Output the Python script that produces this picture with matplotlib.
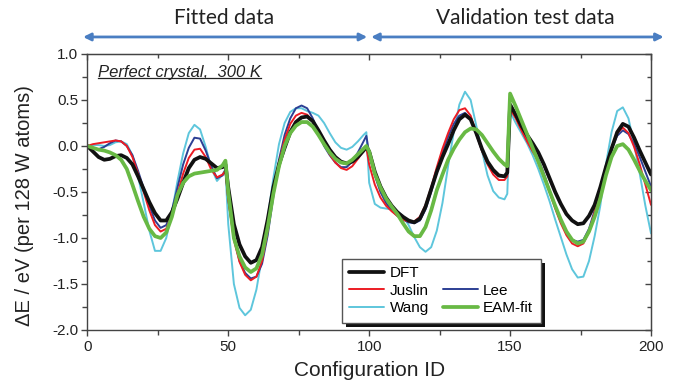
import numpy as np
import matplotlib
matplotlib.use('Agg')
import matplotlib.pyplot as plt
from matplotlib.lines import Line2D
from matplotlib.patches import Rectangle
from matplotlib.transforms import IdentityTransform
from matplotlib.ticker import MultipleLocator, FormatStrFormatter

# ---------------- data ----------------
config_id = np.sort(np.r_[np.arange(0, 201, 2), 49, 99, 149])

dft = [
    0.00, -0.06, -0.12, -0.15, -0.14, -0.11, -0.10, -0.13, -0.20, -0.33, -0.47, -0.61, -0.73,
    -0.81, -0.81, -0.72, -0.57, -0.40, -0.24, -0.15, -0.12, -0.14, -0.19, -0.24, -0.23,
    -0.20,
    -0.45, -0.85, -1.07, -1.20, -1.27, -1.24, -1.10, -0.80, -0.45, -0.20, -0.02, 0.15, 0.26,
    0.31, 0.32, 0.27, 0.17, 0.06, -0.04, -0.12, -0.17, -0.19, -0.17, -0.12, -0.05,
    -0.01,
    -0.06, -0.28, -0.44, -0.56, -0.65, -0.72, -0.77, -0.81, -0.83, -0.79, -0.66, -0.47, -0.28,
    -0.12, 0.02, 0.17, 0.29, 0.34, 0.29, 0.14, -0.03, -0.17, -0.26, -0.32, -0.33,
    -0.29,
    0.45, 0.34, 0.22, 0.12, 0.03, -0.07, -0.20, -0.35, -0.50, -0.63, -0.74, -0.81, -0.85,
    -0.84, -0.76, -0.64, -0.45, -0.23, -0.03, 0.15, 0.24, 0.21, 0.09, -0.05, -0.18, -0.31,
]

juslin = [
    0.00, 0.02, 0.03, 0.04, 0.05, 0.06, 0.05, 0.00, -0.12, -0.30, -0.50, -0.70, -0.86,
    -0.93, -0.90, -0.75, -0.52, -0.30, -0.13, -0.04, -0.03, -0.12, -0.26, -0.34, -0.31,
    -0.27,
    -0.58, -1.02, -1.26, -1.40, -1.46, -1.42, -1.25, -0.92, -0.52, -0.18, 0.07, 0.24, 0.33,
    0.36, 0.34, 0.27, 0.16, 0.03, -0.09, -0.18, -0.24, -0.26, -0.22, -0.14, -0.05,
    -0.02,
    -0.20, -0.42, -0.56, -0.65, -0.71, -0.76, -0.80, -0.82, -0.82, -0.77, -0.64, -0.45, -0.23,
    -0.03, 0.14, 0.29, 0.39, 0.41, 0.33, 0.14, -0.05, -0.20, -0.31, -0.37, -0.37,
    -0.33,
    0.40, 0.30, 0.17, 0.05, -0.06, -0.16, -0.32, -0.50, -0.68, -0.84, -0.97, -1.06, -1.09,
    -1.06, -0.93, -0.72, -0.47, -0.22, -0.02, 0.14, 0.20, 0.14, -0.01, -0.20, -0.42, -0.64,
]

lee = [
    0.00, -0.03, -0.035, -0.01, 0.03, 0.06, 0.05, 0.00, -0.10, -0.27, -0.46, -0.65, -0.81,
    -0.89, -0.86, -0.70, -0.45, -0.20, -0.02, 0.09, 0.08, -0.05, -0.22, -0.35, -0.32,
    -0.26,
    -0.58, -1.00, -1.25, -1.38, -1.44, -1.42, -1.28, -0.97, -0.55, -0.15, 0.12, 0.30, 0.41,
    0.44, 0.41, 0.30, 0.15, 0.00, -0.10, -0.18, -0.23, -0.23, -0.17, -0.07, 0.05,
    0.11,
    -0.08, -0.32, -0.50, -0.62, -0.70, -0.76, -0.80, -0.83, -0.84, -0.81, -0.69, -0.50, -0.28,
    -0.07, 0.10, 0.24, 0.33, 0.36, 0.30, 0.13, -0.05, -0.19, -0.28, -0.33, -0.33,
    -0.29,
    0.42, 0.32, 0.20, 0.08, -0.04, -0.14, -0.30, -0.48, -0.66, -0.82, -0.94, -1.02, -1.04,
    -1.02, -0.90, -0.70, -0.46, -0.22, -0.03, 0.11, 0.17, 0.13, 0.02, -0.12, -0.28, -0.44,
]

wang = [
    0.00, 0.01, 0.01, 0.00, 0.01, 0.04, 0.05, 0.02, -0.10, -0.33, -0.62, -0.92, -1.14,
    -1.14, -1.00, -0.72, -0.38, -0.08, 0.14, 0.23, 0.18, -0.01, -0.24, -0.38, -0.31,
    -0.25,
    -0.85, -1.50, -1.76, -1.84, -1.78, -1.56, -1.20, -0.78, -0.35, 0.02, 0.25, 0.37, 0.41,
    0.41, 0.38, 0.36, 0.33, 0.25, 0.14, 0.04, -0.02, -0.04, -0.01, 0.05, 0.12,
    0.15,
    -0.40, -0.63, -0.67, -0.68, -0.69, -0.71, -0.76, -0.86, -0.99, -1.10, -1.15, -1.10, -0.92,
    -0.62, -0.22, 0.15, 0.45, 0.59, 0.50, 0.22, -0.05, -0.32, -0.49, -0.56, -0.58,
    -0.52,
    0.37, 0.25, 0.14, 0.03, -0.10, -0.25, -0.42, -0.60, -0.80, -0.99, -1.18, -1.34, -1.43,
    -1.42, -1.25, -0.98, -0.65, -0.20, 0.15, 0.38, 0.42, 0.30, 0.02, -0.30, -0.65, -0.95,
]

eam_fit = [
    0.00, -0.02, -0.04, -0.05, -0.07, -0.10, -0.15, -0.25, -0.42, -0.60, -0.77, -0.90, -0.98,
    -1.00, -0.94, -0.77, -0.53, -0.40, -0.33, -0.30, -0.29, -0.28, -0.27, -0.26, -0.21,
    -0.16,
    -0.50, -1.00, -1.20, -1.32, -1.37, -1.33, -1.18, -0.88, -0.52, -0.22, 0.00, 0.14, 0.22,
    0.26, 0.26, 0.21, 0.12, 0.02, -0.07, -0.14, -0.18, -0.19, -0.15, -0.09, -0.03,
    0.00,
    -0.06, -0.30, -0.45, -0.57, -0.66, -0.74, -0.84, -0.93, -0.98, -0.98, -0.88, -0.70, -0.48,
    -0.31, -0.15, -0.03, 0.07, 0.15, 0.19, 0.18, 0.12, 0.03, -0.06, -0.14, -0.20,
    -0.22,
    0.57, 0.43, 0.28, 0.13, -0.02, -0.17, -0.33, -0.49, -0.65, -0.80, -0.93, -1.02, -1.06,
    -1.04, -0.93, -0.77, -0.57, -0.32, -0.12, 0.00, 0.02, -0.04, -0.15, -0.27, -0.38, -0.48,
]

x_ticks = [0, 50, 100, 150, 200]
y_ticks = [-2.0, -1.5, -1.0, -0.5, 0.0, 0.5, 1.0]
region_labels = ['Fitted data', 'Validation test data']
panel_note = 'Perfect crystal,  300 K'

# ---------------- figure ----------------
plt.rcParams['font.family'] = ['Liberation Sans', 'DejaVu Sans']
plt.rcParams['axes.unicode_minus'] = False

fig = plt.figure(figsize=(6.78, 3.81), dpi=100)
ax = fig.add_axes([0.1288, 0.1339, 0.8314, 0.7244])

series = [
    (wang, 'Wang', '#5ec6dc', 1.4, 2.0),
    (lee, 'Lee', '#2c3f94', 1.4, 2.1),
    (juslin, 'Juslin', '#ec1c24', 1.4, 2.2),
    (dft, 'DFT', '#111111', 2.7, 2.3),
    (eam_fit, 'EAM-fit', '#68b944', 2.7, 2.4),
]
lines = {}
for vals, name, col, lw, z in series:
    ln, = ax.plot(config_id, vals, color=col, lw=lw, label=name, zorder=z,
                  solid_joinstyle='round', solid_capstyle='round')
    lines[name] = ln

ax.set_xlim(0, 200)
ax.set_ylim(-2.0, 1.0)
ax.set_xticks(x_ticks)
ax.set_yticks(y_ticks)
ax.yaxis.set_major_formatter(FormatStrFormatter('%.1f'))
ax.xaxis.set_minor_locator(MultipleLocator(25))
ax.yaxis.set_minor_locator(MultipleLocator(0.25))
spine_col = '#444444'
for s in ax.spines.values():
    s.set_color(spine_col)
    s.set_linewidth(1.0)
ax.tick_params(which='both', direction='out', colors=spine_col, labelcolor='#222222',
               labelsize=11, width=1.0)
ax.tick_params(which='major', length=4)
ax.tick_params(which='minor', length=3.5)
ax.tick_params(axis='y', pad=2.5)
ax.tick_params(axis='x', pad=3.5)

# mirrored inward ticks on top and right
secx = ax.secondary_xaxis('top')
secx.set_xticks(x_ticks)
secx.xaxis.set_minor_locator(MultipleLocator(25))
secx.tick_params(which='both', direction='in', labeltop=False, colors=spine_col, width=1.0)
secx.tick_params(which='major', length=4)
secx.tick_params(which='minor', length=3)
secx.spines['top'].set_color(spine_col)
secy = ax.secondary_yaxis('right')
secy.set_yticks(y_ticks)
secy.yaxis.set_minor_locator(MultipleLocator(0.25))
secy.tick_params(which='both', direction='in', labelright=False, colors=spine_col, width=1.0)
secy.tick_params(which='major', length=4)
secy.tick_params(which='minor', length=3)
secy.spines['right'].set_color(spine_col)

ax.set_xlabel('Configuration ID', fontsize=15, color='#222222')
ax.xaxis.set_label_coords(0.5, -0.112)
ax.set_ylabel('ΔE / eV (per 128 W atoms)', fontsize=14.5, color='#222222')
ax.yaxis.set_label_coords(-0.094, 0.45)

# region arrows and titles
arrow_col = '#4a7ec2'
arr_y = 1.185
for x0, x1 in [(-1.5, 99.3), (100.7, 204.5)]:
    ax.annotate('', xy=(x1, arr_y), xytext=(x0, arr_y), xycoords='data',
                annotation_clip=False,
                arrowprops=dict(arrowstyle='<|-|>', color=arrow_col, lw=2.0,
                                mutation_scale=11, shrinkA=0, shrinkB=0))
ax.text(48.4, 1.39, region_labels[0], ha='center', va='center', fontsize=15,
        family=['Lato', 'DejaVu Sans'], color='#222222', clip_on=False)
ax.text(155.3, 1.39, region_labels[1], ha='center', va='center', fontsize=15,
        family=['Lato', 'DejaVu Sans'], color='#222222', clip_on=False)

note = ax.text(3.8, 0.80, panel_note, ha='left', va='center', fontsize=12,
               style='italic', color='#222222')

# legend
blank = Line2D([], [], linestyle='none')
handles = [lines['DFT'], lines['Juslin'], lines['Wang'], blank, lines['Lee'], lines['EAM-fit']]
labels = ['DFT', 'Juslin', 'Wang', '', 'Lee', 'EAM-fit']
leg = ax.legend(handles, labels, ncol=2, loc='lower left', bbox_to_anchor=(0.451, 0.026),
                borderaxespad=0, frameon=True, fancybox=False, edgecolor='#555555',
                framealpha=1, fontsize=11, handlelength=2.3, handletextpad=0.35,
                columnspacing=0.9, labelspacing=0.22, borderpad=0.5)
leg.get_frame().set_linewidth(1.0)
leg.set_zorder(5)

fig.canvas.draw()
bb = leg.get_window_extent()
shadow = Rectangle((bb.x0 + 4, bb.y0 - 4), bb.width, bb.height, transform=IdentityTransform(),
                   facecolor='#111111', edgecolor='none', zorder=4.9)
ax.add_artist(shadow)
shadow.set_clip_on(False)

tb = note.get_window_extent()
ul = Line2D([tb.x0, tb.x1], [tb.y0 + 1.5, tb.y0 + 1.5], transform=IdentityTransform(),
            color='#222222', lw=0.9)
fig.add_artist(ul)

fig.savefig('out.png', dpi=100)
